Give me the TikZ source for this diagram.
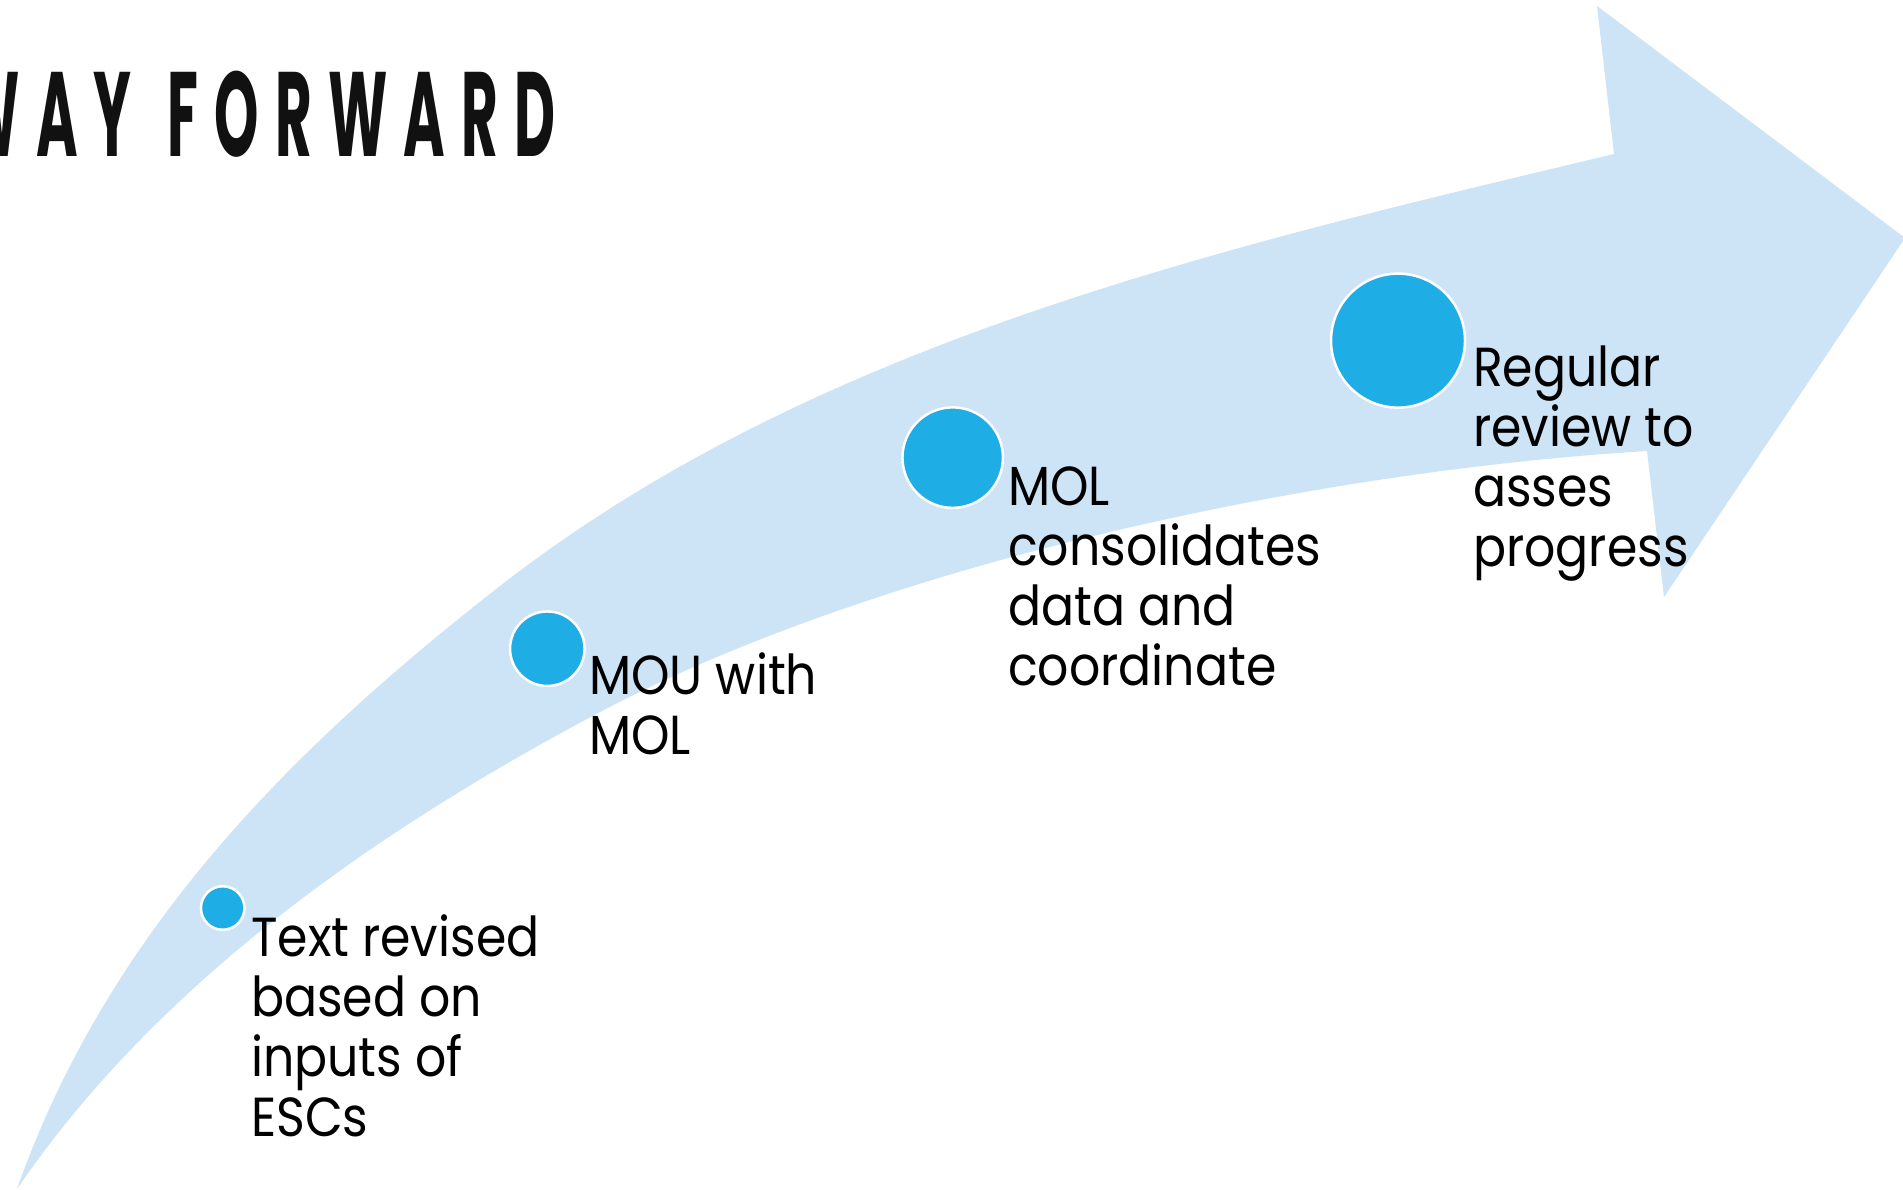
\documentclass[tikz,border=0pt]{standalone}
\usepackage{fontspec}
\setmainfont{Poppins}
\newfontfamily\titlefont[LetterSpace=29]{Poppins}
\definecolor{bandblue}{RGB}{205,227,246}
\definecolor{dotblue}{RGB}{30,173,228}
\definecolor{titleink}{RGB}{17,17,17}
\begin{document}
\begin{tikzpicture}[x=1pt,y=-1pt,
  dotnode/.style={circle,fill=dotblue,draw=white,line width=2.5pt,inner sep=0pt},
  steptext/.style={anchor=base west,align=left,inner sep=0pt,text=black,
    font=\fontsize{55}{60}\selectfont,xscale=0.89}]
\useasboundingbox (0,0) rectangle (1903,1189);
\fill[white] (0,0) rectangle (1903,1189);
\clip (0,0) rectangle (1903,1189);
% curved arrow
\fill[bandblue] (17,1189) .. controls (111,923) and (303,740) .. (500,586)
  .. controls (816,340) and (1225,247) .. (1614,154)
  -- (1597,6) -- (1905,238) -- (1664,597) -- (1647,451)
  .. controls (1288,473) and (865,572) .. (600,712)
  .. controls (379,829) and (159,981) .. (17,1189) -- cycle;
% title
\node[anchor=base east,inner sep=0pt,xscale=0.47,text=titleink,
  font=\titlefont\bfseries\fontsize{120}{120}\selectfont] (title) at (556,156) {WAY\hspace{15pt} FORWARD};
% dots
\node[dotnode,minimum size=43.5pt] (c1) at (222.7,908) {};
\node[dotnode,minimum size=74.5pt] (c2) at (547.3,648.7) {};
\node[dotnode,minimum size=100.5pt] (c3) at (952.7,457.6) {};
\node[dotnode,minimum size=134pt] (c4) at (1398,340.6) {};
% texts (anchored at the baseline of their last line)
\node[steptext] (t1) at (251,1136) {Text revised\\based on\\inputs of\\ESCs};
\node[steptext] (t2) at (589,754) {MOU with\\MOL};
\node[steptext] (t3) at (1008,685) {MOL\\consolidates\\data and\\coordinate};
\node[steptext] (t4) at (1473,566) {Regular\\review to\\asses\\progress};
\end{tikzpicture}
\end{document}
